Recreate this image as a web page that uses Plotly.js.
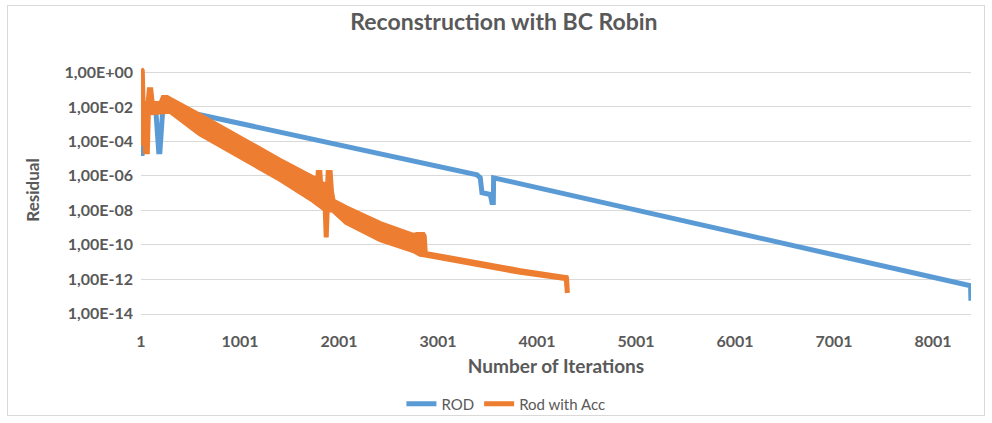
<!DOCTYPE html>
<html>
<head>
<meta charset="utf-8">
<script src="https://cdn.plot.ly/plotly-3.0.1.min.js"></script>
<style>
html,body{margin:0;padding:0;background:#fff;}
#wrap{position:relative;width:992px;height:423px;}
#chart{width:992px;height:423px;}
#frame{position:absolute;left:7px;top:5px;width:976px;height:409px;border:1px solid #d9d9d9;pointer-events:none;}
</style>
</head>
<body>
<div id="wrap"><div id="chart"></div><div id="frame"></div></div>
<script>
// ROD (blue) residual curve
const rodIter = [1, 12, 25, 152, 180, 192, 220, 597, 3395, 3428, 3445, 3529, 3546, 3560, 3563, 5046, 8381, 8384];
const rodRes  = [2.0e-5, 2.0e-5, 6.31e-3, 5.01e-3, 2.51e-5, 2.51e-5, 6.31e-3, 3.55e-3, 1.15e-6, 7.76e-7, 1.05e-7, 8.32e-8, 2.82e-8, 2.82e-8, 7.76e-7, 9.12e-9, 4.17e-13, 5.62e-14];

// Rod with Acc (orange): oscillating band, upper and lower envelopes
const accUpIter = [1, 14, 22, 72, 85, 100, 115, 200, 225, 264, 294, 597, 1406, 1740, 1785, 1791, 1808, 1815, 1885, 1892, 1912, 1925, 1942, 2074, 2418, 2751, 2791, 2852, 2862, 2873, 3833, 4268, 4295, 4308];
const accUpRes  = [1.58, 1.26, 1.58e-2, 1.58e-2, 1.0e-1, 1.0e-1, 1.58e-2, 1.58e-2, 3.55e-2, 3.55e-2, 2.82e-2, 3.24e-3, 7.94e-6, 7.94e-7, 5.62e-7, 1.58e-6, 1.58e-6, 3.98e-7, 2.51e-7, 1.58e-6, 1.58e-6, 1.26e-7, 3.55e-8, 1.41e-8, 1.70e-9, 3.47e-10, 3.98e-10, 3.98e-10, 3.16e-10, 3.16e-11, 3.16e-12, 1.32e-12, 1.26e-12, 1.58e-13];
const accLoIter = [1, 12, 18, 35, 45, 65, 75, 294, 597, 1406, 1740, 1831, 1862, 1872, 1882, 1942, 2074, 2418, 2751, 2822, 2873, 3833, 4268, 4300, 4308];
const accLoRes  = [7.94e-5, 7.94e-5, 5.01e-3, 5.01e-3, 2.51e-5, 2.51e-5, 4.47e-3, 5.62e-3, 2.75e-4, 6.31e-7, 3.72e-8, 1.58e-8, 1.12e-8, 2.63e-10, 1.12e-8, 1.0e-8, 2.0e-9, 2.0e-10, 4.57e-11, 2.82e-11, 2.51e-11, 2.51e-12, 1.12e-12, 1.05e-12, 1.58e-13];

const xTicks = [1, 1001, 2001, 3001, 4001, 5001, 6001, 7001, 8001];
const yTicks = [1e0, 1e-2, 1e-4, 1e-6, 1e-8, 1e-10, 1e-12, 1e-14];
const yTickText = ["1,00E+00", "1,00E-02", "1,00E-04", "1,00E-06", "1,00E-08", "1,00E-10", "1,00E-12", "1,00E-14"];

const BLUE = "#5B9BD5", ORANGE = "#ED7D31", GREY = "#595959";

const bandX = accUpIter.concat(accLoIter.slice().reverse());
const bandY = accUpRes.concat(accLoRes.slice().reverse());

const traces = [
  {x: rodIter, y: rodRes, type: "scatter", mode: "lines", name: "ROD",
   line: {color: BLUE, width: 5, shape: "linear"}, showlegend: false, hoverinfo: "skip"},
  {x: bandX, y: bandY, type: "scatter", mode: "lines", name: "Rod with Acc",
   fill: "toself", fillcolor: ORANGE, line: {color: ORANGE, width: 5},
   showlegend: false, hoverinfo: "skip"},
  {x: [null], y: [null], type: "scatter", mode: "lines", name: "ROD",
   line: {color: BLUE, width: 5}},
  {x: [null], y: [null], type: "scatter", mode: "lines", name: "Rod with Acc",
   line: {color: ORANGE, width: 5}}
];

const layout = {
  width: 992, height: 423,
  margin: {l: 141, r: 21, t: 66, b: 109, pad: 0},
  paper_bgcolor: "#ffffff", plot_bgcolor: "#ffffff",
  font: {family: "Lato, 'Liberation Sans', sans-serif", color: GREY},
  title: {text: "Reconstruction with BC Robin", x: 0.508, xref: "container", y: 0.948, yref: "container",
          xanchor: "center", yanchor: "middle",
          font: {family: "Lato, sans-serif", size: 23, weight: 700, color: GREY}},
  xaxis: {type: "linear", range: [1, 8385], tickmode: "array", tickvals: xTicks,
          ticktext: xTicks.map(String), showgrid: false, zeroline: false,
          showline: true, linecolor: "#d9d9d9", linewidth: 1, ticks: "",
          ticklabelstandoff: 13,
          tickfont: {family: "Lato, sans-serif", size: 16, weight: 700, color: GREY},
          title: {text: "Number of Iterations", standoff: 10,
                  font: {family: "Lato, sans-serif", size: 19, weight: 700, color: GREY}}},
  yaxis: {type: "log", range: [-14.02, 0.38], tickmode: "array", tickvals: yTicks,
          ticktext: yTickText, showgrid: true, gridcolor: "#d9d9d9", gridwidth: 1,
          zeroline: false, showline: false, ticks: "", ticklabelstandoff: 7,
          tickfont: {family: "Lato, sans-serif", size: 16, weight: 700, color: GREY},
          title: {text: "Residual", standoff: 20,
                  font: {family: "Lato, sans-serif", size: 17, weight: 700, color: GREY}}},
  legend: {orientation: "h", x: 0.51, xanchor: "center", xref: "container",
           y: 0.045, yref: "container", yanchor: "middle",
           font: {family: "Lato, sans-serif", size: 15, color: GREY},
           itemwidth: 30, tracegroupgap: 0, bgcolor: "rgba(0,0,0,0)"},
  showlegend: true
};

Plotly.newPlot("chart", traces, layout, {displayModeBar: false, staticPlot: true});
</script>
</body>
</html>
